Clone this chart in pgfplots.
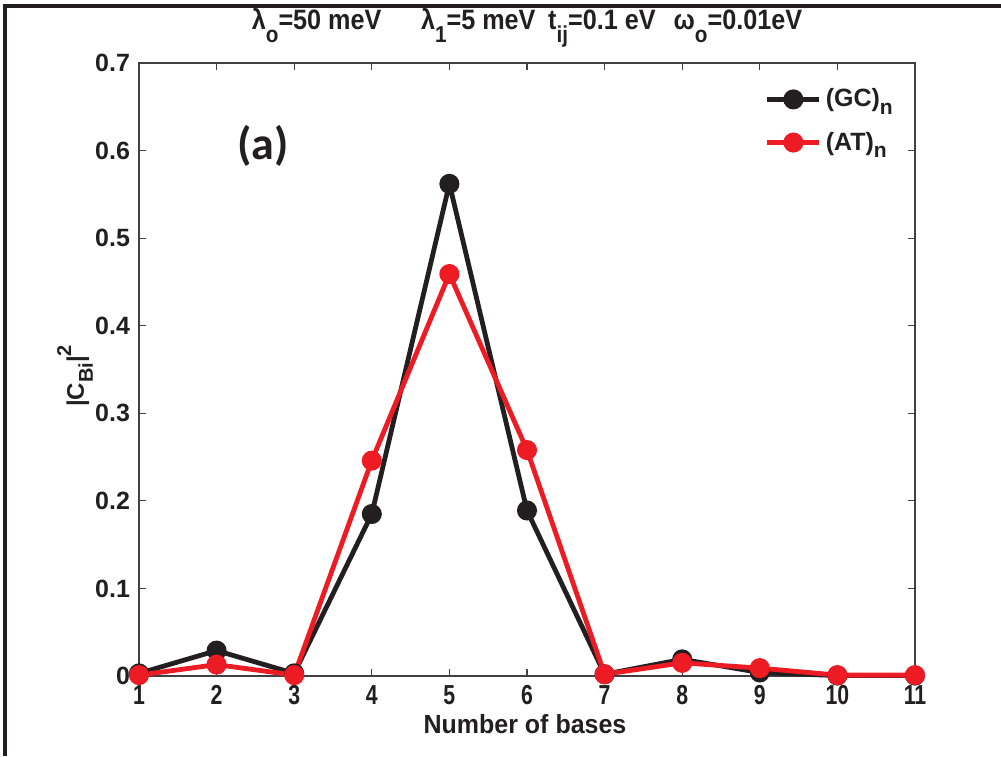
\documentclass[border=0pt]{standalone}
\usepackage{pgfplots}
\pgfplotsset{compat=1.18}
\usepackage{fontspec}
\setmainfont{Liberation Sans}
\newfontfamily\carlito{Carlito}
\definecolor{gcblack}{RGB}{35,31,32}
\definecolor{atred}{RGB}{237,28,36}
\newcommand{\sub}[1]{\raisebox{-0.55ex}{\fontsize{10.5}{12}\selectfont #1}}
\newcommand{\tsub}[1]{\raisebox{-0.85ex}{\fontsize{11.5}{12}\selectfont #1}}
\begin{document}
\begin{tikzpicture}
\path[use as bounding box] (0,0) rectangle (500.5pt,378pt);
\draw[line width=1.8pt, gcblack] (2.5pt,0) -- (2.5pt,375pt) -- (500.5pt,375pt);
\begin{axis}[
  at={(69.5pt,40pt)}, anchor=south west,
  width=388pt, height=306.5pt, scale only axis,
  xmin=1, xmax=11, ymin=0, ymax=0.7,
  xtick={1,...,11},
  ytick={0,0.1,...,0.7},
  tick align=inside,
  major tick length=3.5pt,
  axis line style={draw=black!75, line width=0.8pt},
  every tick/.style={draw=black!75, line width=0.6pt},
  tick label style={font=\fontsize{12.5}{14}\selectfont\bfseries, text=gcblack},
  /pgf/number format/assume math mode=true,
  yticklabel style={/pgf/number format/fixed, /pgf/number format/precision=1, xshift=-1pt},
  xticklabel style={yshift=-1pt, xscale=0.85, yscale=1.1},
  clip=false,
  legend style={draw=none, fill=none, at={(0.977,0.965)}, anchor=north east,
    font=\fontsize{12.5}{14}\selectfont\bfseries, text=gcblack, row sep=7pt,
    inner sep=0pt},
  legend cell align=left,
  legend image code/.code={\draw[mark repeat=2,mark phase=2,#1] plot coordinates {(0pt,0pt) (13pt,0pt) (26pt,0pt)};},
]
\addplot[gcblack, line width=2.4pt, mark=*, mark size=3.8pt, mark options={solid, fill=gcblack}]
coordinates {(1,0.003)(2,0.029)(3,0.003)(4,0.185)(5,0.562)(6,0.189)(7,0.002)(8,0.019)(9,0.004)(10,0.0005)(11,0.0005)};
\addlegendentry{(GC)\sub{n}}
\addplot[atred, line width=2.4pt, mark=*, mark size=3.8pt, mark options={solid, fill=atred}]
coordinates {(1,0.001)(2,0.013)(3,0.001)(4,0.246)(5,0.459)(6,0.258)(7,0.002)(8,0.015)(9,0.009)(10,0.001)(11,0.001)};
\addlegendentry{(AT)\sub{n}}
\end{axis}
\node[font=\fontsize{14}{16}\selectfont\bfseries, text=gcblack, xscale=0.9, anchor=base, inner sep=0pt] at (263.5pt,363pt)
  {λ\tsub{o}=50 meV\hspace{22pt}λ\tsub{1}=5 meV\hspace{7pt}t\tsub{ij}=0.1 eV\hspace{10pt}ω\tsub{o}=0.01eV};
\node[font=\fontsize{12.5}{14}\selectfont\bfseries, text=gcblack, yscale=1.05] at (262.5pt,16pt) {Number of bases};
\node[font=\fontsize{12}{14}\selectfont\bfseries, text=gcblack, rotate=90] at (37.5pt,190pt)
  {|C\raisebox{-0.7ex}{\fontsize{10}{12}\selectfont Bi}|\raisebox{1.0ex}{\fontsize{10}{12}\selectfont 2}};
\node[font=\carlito\fontsize{23}{26}\selectfont\bfseries, text=gcblack] at (131.5pt,305pt) {(a)};
\end{tikzpicture}
\end{document}
